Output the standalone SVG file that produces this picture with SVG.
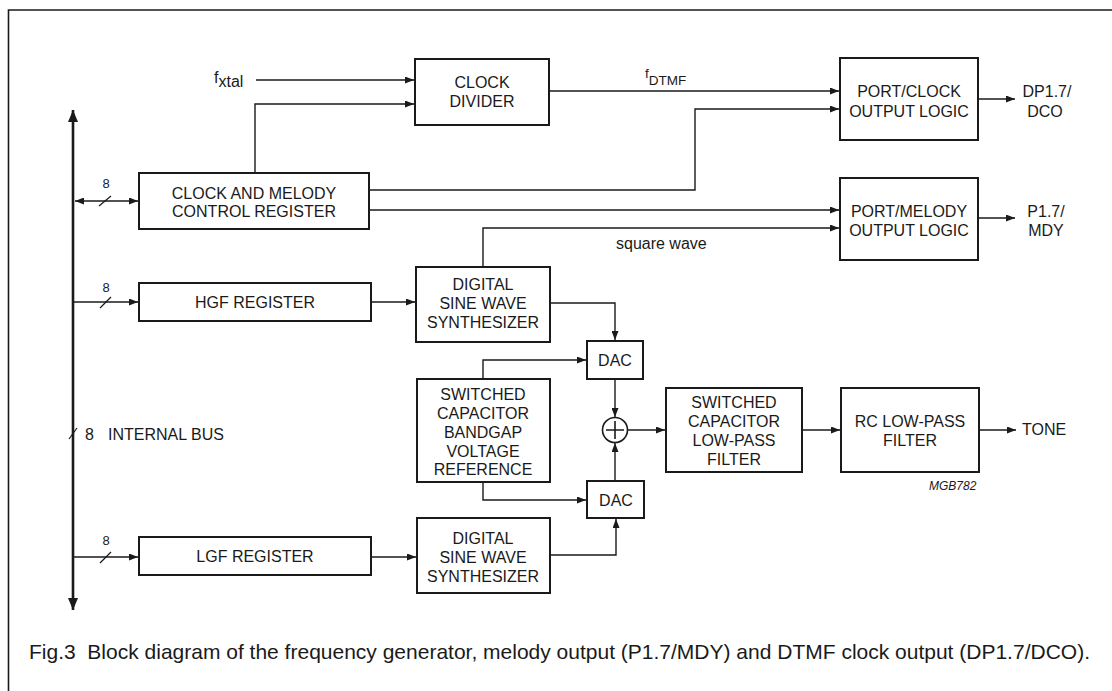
<svg xmlns="http://www.w3.org/2000/svg" width="1112" height="691" viewBox="0 0 1112 691">
  <style>
    .box { fill: #fff; stroke: #1a1a1a; stroke-width: 2; }
    .wire { fill: none; stroke: #1a1a1a; stroke-width: 1.4; }
    .bus { fill: none; stroke: #1a1a1a; stroke-width: 2.6; }
    .tick { stroke: #1a1a1a; stroke-width: 1.2; }
    .lbl { font-family: "Liberation Sans", Arial, Helvetica, sans-serif; font-size: 16px; fill: #1a1a1a; }
    .mid { text-anchor: middle; }
    .small { font-size: 13px; }
    .tag { font-size: 12px; font-style: italic; }
    .cap { font-size: 21px; }
  </style>
  <defs>
    <marker id="arrow" viewBox="0 0 9 7" refX="9" refY="3.5" markerWidth="9" markerHeight="7" markerUnits="userSpaceOnUse" orient="auto-start-reverse">
      <path d="M0,0 L9,3.5 L0,7 z" fill="#1a1a1a"/>
    </marker>
    <marker id="busArrow" viewBox="0 0 12 10" refX="12" refY="5" markerWidth="12" markerHeight="10" markerUnits="userSpaceOnUse" orient="auto-start-reverse">
      <path d="M0,0 L12,5 L0,10 z" fill="#1a1a1a"/>
    </marker>
  </defs>

  <rect width="1112" height="691" fill="#fff"/>

  <!-- frame -->
  <path d="M8.5,691 V10 H1112" fill="none" stroke="#1a1a1a" stroke-width="1.6"/>

  <!-- connectors -->
  <g id="connectors">
    <!-- 8-bit internal bus -->
    <path class="bus" d="M73,110 V610" marker-start="url(#busArrow)" marker-end="url(#busArrow)"/>
    <path class="tick" d="M69,439 L77,428"/>

    <!-- bus taps to the registers -->
    <path class="wire" d="M75,201 H138" marker-start="url(#arrow)" marker-end="url(#arrow)"/>
    <path class="tick" d="M99,206 L111,196"/>
    <path class="wire" d="M73,302 H138" marker-end="url(#arrow)"/>
    <path class="tick" d="M100,308 L111,297"/>
    <path class="wire" d="M73,557 H138" marker-end="url(#arrow)"/>
    <path class="tick" d="M100,563 L111,552"/>

    <!-- clock path -->
    <path class="wire" d="M256,80 H414" marker-end="url(#arrow)"/>
    <path class="wire" d="M255,173 V104 H414" marker-end="url(#arrow)"/>
    <path class="wire" d="M549,91 H839" marker-end="url(#arrow)"/>
    <path class="wire" d="M369,190 H695 V109 H839" marker-end="url(#arrow)"/>
    <path class="wire" d="M369,210 H839" marker-end="url(#arrow)"/>
    <path class="wire" d="M483,267 V228 H839" marker-end="url(#arrow)"/>
    <path class="wire" d="M978,99 H1015" marker-end="url(#arrow)"/>
    <path class="wire" d="M978,218 H1015" marker-end="url(#arrow)"/>

    <!-- tone path -->
    <path class="wire" d="M371,302 H415" marker-end="url(#arrow)"/>
    <path class="wire" d="M550,303 H615 V340" marker-end="url(#arrow)"/>
    <path class="wire" d="M483,379 V360 H586" marker-end="url(#arrow)"/>
    <path class="wire" d="M615,379 V417" marker-end="url(#arrow)"/>
    <path class="wire" d="M628,430 H665" marker-end="url(#arrow)"/>
    <path class="wire" d="M802,430 H840" marker-end="url(#arrow)"/>
    <path class="wire" d="M979,430 H1016" marker-end="url(#arrow)"/>
    <path class="wire" d="M483,482 V500 H586" marker-end="url(#arrow)"/>
    <path class="wire" d="M550,555 H616 V519" marker-end="url(#arrow)"/>
    <path class="wire" d="M615,481 V443" marker-end="url(#arrow)"/>
    <path class="wire" d="M371,557 H416" marker-end="url(#arrow)"/>
  </g>

  <!-- blocks -->
  <g id="clock-divider">
    <rect class="box" x="415" y="59" width="134" height="66"/>
    <text class="lbl mid" x="482" y="88">CLOCK</text>
    <text class="lbl mid" x="482" y="107">DIVIDER</text>
  </g>
  <g id="control-register">
    <rect class="box" x="139" y="173" width="230" height="56"/>
    <text class="lbl mid" x="254" y="199">CLOCK AND MELODY</text>
    <text class="lbl mid" x="254" y="217">CONTROL REGISTER</text>
  </g>
  <g id="port-clock">
    <rect class="box" x="840" y="58" width="138" height="82"/>
    <text class="lbl mid" x="909" y="97">PORT/CLOCK</text>
    <text class="lbl mid" x="909" y="117">OUTPUT LOGIC</text>
  </g>
  <g id="port-melody">
    <rect class="box" x="840" y="178" width="138" height="82"/>
    <text class="lbl mid" x="909" y="217">PORT/MELODY</text>
    <text class="lbl mid" x="909" y="236">OUTPUT LOGIC</text>
  </g>
  <g id="hgf-register">
    <rect class="box" x="139" y="283" width="232" height="38"/>
    <text class="lbl mid" x="255" y="308">HGF REGISTER</text>
  </g>
  <g id="synth-high">
    <rect class="box" x="416" y="267" width="134" height="75"/>
    <text class="lbl mid" x="483" y="290">DIGITAL</text>
    <text class="lbl mid" x="483" y="309">SINE WAVE</text>
    <text class="lbl mid" x="483" y="328">SYNTHESIZER</text>
  </g>
  <g id="bandgap-reference">
    <rect class="box" x="417" y="379" width="133" height="103"/>
    <text class="lbl mid" x="483" y="400">SWITCHED</text>
    <text class="lbl mid" x="483" y="419">CAPACITOR</text>
    <text class="lbl mid" x="483" y="438">BANDGAP</text>
    <text class="lbl mid" x="483" y="457">VOLTAGE</text>
    <text class="lbl mid" x="483" y="475">REFERENCE</text>
  </g>
  <g id="dac-high">
    <rect class="box" x="587" y="341" width="56" height="38"/>
    <text class="lbl mid" x="615" y="366">DAC</text>
  </g>
  <g id="summer">
    <circle cx="615" cy="430" r="12.5" fill="#fff" stroke="#1a1a1a" stroke-width="1.6"/>
    <path d="M606,430 H624 M615,421 V439" stroke="#1a1a1a" stroke-width="1.6"/>
  </g>
  <g id="dac-low">
    <rect class="box" x="587" y="481" width="57" height="37"/>
    <text class="lbl mid" x="616" y="506">DAC</text>
  </g>
  <g id="sc-lowpass">
    <rect class="box" x="666" y="388" width="136" height="84"/>
    <text class="lbl mid" x="734" y="408">SWITCHED</text>
    <text class="lbl mid" x="734" y="427">CAPACITOR</text>
    <text class="lbl mid" x="734" y="446">LOW-PASS</text>
    <text class="lbl mid" x="734" y="465">FILTER</text>
  </g>
  <g id="rc-lowpass">
    <rect class="box" x="841" y="388" width="138" height="84"/>
    <text class="lbl mid" x="910" y="427">RC LOW-PASS</text>
    <text class="lbl mid" x="910" y="446">FILTER</text>
  </g>
  <g id="lgf-register">
    <rect class="box" x="139" y="537" width="232" height="38"/>
    <text class="lbl mid" x="255" y="562">LGF REGISTER</text>
  </g>
  <g id="synth-low">
    <rect class="box" x="417" y="518" width="133" height="75"/>
    <text class="lbl mid" x="483" y="544">DIGITAL</text>
    <text class="lbl mid" x="483" y="563">SINE WAVE</text>
    <text class="lbl mid" x="483" y="582">SYNTHESIZER</text>
  </g>

  <!-- signal labels -->
  <g id="labels">
    <text class="lbl" x="214" y="83">f<tspan dy="4">xtal</tspan></text>
    <text class="lbl" x="645" y="78" style="font-size:13.5px">f<tspan dy="7">DTMF</tspan></text>
    <text class="lbl" x="616" y="249">square wave</text>
    <text class="lbl mid" x="1047" y="97">DP1.7/</text>
    <text class="lbl mid" x="1045" y="117">DCO</text>
    <text class="lbl mid" x="1046" y="217">P1.7/</text>
    <text class="lbl mid" x="1046" y="236">MDY</text>
    <text class="lbl" x="1022" y="435">TONE</text>
    <text class="lbl small mid" x="106" y="188">8</text>
    <text class="lbl small mid" x="106" y="292">8</text>
    <text class="lbl small mid" x="106" y="545">8</text>
    <text class="lbl" x="85" y="440">8</text>
    <text class="lbl" x="108" y="440">INTERNAL BUS</text>
    <text class="lbl tag" x="929" y="490">MGB782</text>
    <text class="lbl cap" x="29" y="659" xml:space="preserve">Fig.3  Block diagram of the frequency generator, melody output (P1.7/MDY) and DTMF clock output (DP1.7/DCO).</text>
  </g>
</svg>
